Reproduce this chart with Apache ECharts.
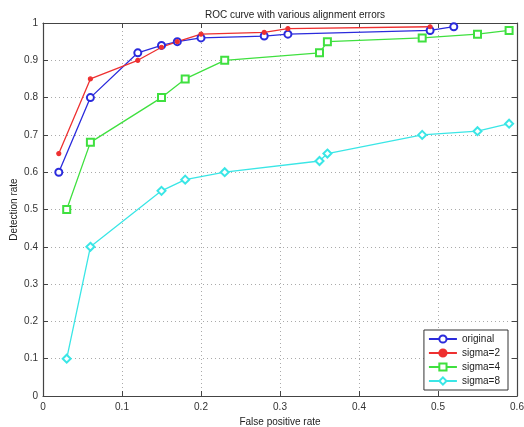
<!DOCTYPE html>
<html lang="en">
<head>
    <meta charset="UTF-8">
    <title>ROC curve</title>
    <style>
        html, body { margin: 0; padding: 0; background: #fff; }
        #root { width: 524px; height: 427px; }
    </style>
</head>
<body>
    <div id="root"></div>
    <script src="https://cdn.jsdelivr.net/npm/echarts@6/dist/echarts.min.js"></script>
    <script>
        // values
        var origX = [0.02, 0.06, 0.12, 0.15, 0.17, 0.20, 0.28, 0.31, 0.49, 0.52];
        var origY = [0.60, 0.80, 0.92, 0.94, 0.95, 0.96, 0.965, 0.97, 0.98, 0.99];
        var s2X = [0.02, 0.06, 0.12, 0.15, 0.17, 0.20, 0.28, 0.31, 0.49];
        var s2Y = [0.65, 0.85, 0.90, 0.935, 0.95, 0.97, 0.975, 0.985, 0.99];
        var s4X = [0.03, 0.06, 0.15, 0.18, 0.23, 0.35, 0.36, 0.48, 0.55, 0.59];
        var s4Y = [0.50, 0.68, 0.80, 0.85, 0.90, 0.92, 0.95, 0.96, 0.97, 0.98];
        var s8X = [0.03, 0.06, 0.15, 0.18, 0.23, 0.35, 0.36, 0.48, 0.55, 0.59];
        var s8Y = [0.10, 0.40, 0.55, 0.58, 0.60, 0.63, 0.65, 0.70, 0.71, 0.73];
        var names = ["original", "sigma=2", "sigma=4", "sigma=8"];

        function pairs(xs, ys) {
            return xs.map(function (x, i) { return [x, ys[i]]; });
        }

        var font = "Liberation Sans, Arial, sans-serif";
        var axisColor = "#444";
        var gridLine = { show: true, lineStyle: { color: "#aaa", type: [1, 3], width: 1 } };

        function mkSeries(name, data, symbol, size, color) {
            return {
                name: name,
                type: "line",
                data: data,
                symbol: symbol,
                symbolSize: size,
                lineStyle: { color: color, width: 1.3 },
                itemStyle: { color: color, borderColor: color, borderWidth: 1.2 },
                emphasis: { disabled: true }
            };
        }

        var option = {
            animation: false,
            backgroundColor: "#fff",
            textStyle: { fontFamily: font },
            title: {
                text: "ROC curve with various alignment errors",
                left: 290,
                textAlign: "center",
                top: 5,
                textStyle: { fontSize: 10, fontWeight: "normal", color: "#222", fontFamily: font }
            },
            legend: {
                orient: "vertical",
                right: 16,
                bottom: 37,
                data: names,
                backgroundColor: "#fff",
                borderColor: "#333",
                borderWidth: 1,
                borderRadius: 0,
                padding: [4, 8, 4, 4],
                itemWidth: 28,
                itemHeight: 9,
                itemGap: 4,
                textStyle: { fontSize: 10, color: "#222", fontFamily: font }
            },
            grid: { left: 43, right: 7, top: 23, bottom: 31, show: false, outerBoundsMode: "none", containLabel: false },
            xAxis: [
                {
                    type: "value", min: 0, max: 0.6, interval: 0.1,
                    name: "False positive rate", nameLocation: "middle", nameGap: 16,
                    nameTextStyle: { fontSize: 10, color: "#222" },
                    axisLine: { show: true, lineStyle: { color: axisColor, width: 1.2 } },
                    axisTick: { show: true, inside: true, length: 5, lineStyle: { color: axisColor } },
                    axisLabel: { fontSize: 10, color: "#333", margin: 6 },
                    splitLine: gridLine
                },
                {
                    type: "value", min: 0, max: 0.6, interval: 0.1, position: "top",
                    axisLine: { show: true, onZero: false, lineStyle: { color: axisColor, width: 1.2 } },
                    axisTick: { show: true, inside: true, length: 5, lineStyle: { color: axisColor } },
                    axisLabel: { show: false },
                    splitLine: { show: false }
                }
            ],
            yAxis: [
                {
                    type: "value", min: 0, max: 1, interval: 0.1,
                    name: "Detection rate", nameLocation: "middle", nameGap: 24, nameMoveOverlap: false,
                    nameTextStyle: { fontSize: 10, color: "#222" },
                    axisLine: { show: true, lineStyle: { color: axisColor, width: 1.2 } },
                    axisTick: { show: true, inside: true, length: 5, lineStyle: { color: axisColor } },
                    axisLabel: { fontSize: 10, color: "#333", margin: 5 },
                    splitLine: gridLine
                },
                {
                    type: "value", min: 0, max: 1, interval: 0.1, position: "right",
                    axisLine: { show: true, onZero: false, lineStyle: { color: axisColor, width: 1.2 } },
                    axisTick: { show: true, inside: true, length: 5, lineStyle: { color: axisColor } },
                    axisLabel: { show: false },
                    splitLine: { show: false }
                }
            ],
            series: [
                mkSeries(names[0], pairs(origX, origY), "emptyCircle", 7, "#2b2bdc"),
                mkSeries(names[1], pairs(s2X, s2Y), "circle", 4, "#ee3030"),
                mkSeries(names[2], pairs(s4X, s4Y), "emptyRect", 7, "#3fe03f"),
                mkSeries(names[3], pairs(s8X, s8Y), "emptyDiamond", 8, "#3ae6e6")
            ]
        };

        var chart = echarts.init(document.getElementById("root"));
        chart.setOption(option);
    </script>
</body>
</html>
